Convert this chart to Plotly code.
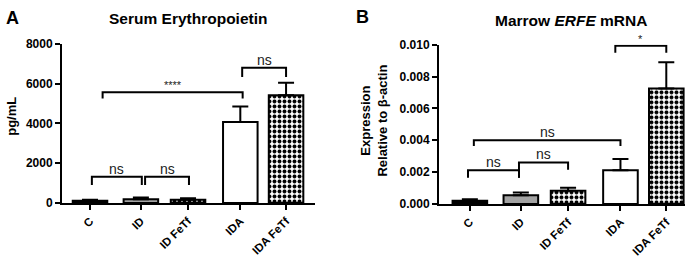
import plotly.graph_objects as go

# ---------------- data ----------------
categories = ["C", "ID", "ID FeTf", "IDA", "IDA FeTf"]
epo_mean = [110, 190, 160, 4070, 5420]
epo_err_top = [165, 275, 235, 4850, 6050]
erfe_mean = [0.00020, 0.00055, 0.00083, 0.00212, 0.00725]
erfe_err_top = [0.00029, 0.00072, 0.00102, 0.00282, 0.00890]

# ---------------- styling / layout ----------------
W, H = 699, 262
POS = [0, 1.09, 2.1, 3.22, 4.2]
BAR_COLORS = ["black", "#a3a3a3", "white", "white", "white"]
PATTERNS = ["", "", ".", "", "."]
FONT = "Liberation Sans, Arial, sans-serif"


def px(x):
    return x / W


def py(y):
    return 1 - y / H


fig = go.Figure()


def add_bars(means, tops, xa, ya):
    for k in range(len(means)):
        marker = dict(color=BAR_COLORS[k], line=dict(color="black", width=2))
        if PATTERNS[k]:
            marker["pattern"] = dict(shape=PATTERNS[k], fgcolor="black", bgcolor="white",
                                     size=5, solidity=0.5, fillmode="replace")
        fig.add_trace(go.Bar(
            x=[POS[k]], y=[means[k]], width=0.74, xaxis=xa, yaxis=ya,
            marker=marker,
            error_y=dict(type="data", symmetric=False,
                         array=[tops[k] - means[k]], arrayminus=[0],
                         color="black", thickness=2, width=8),
            showlegend=False, hoverinfo="skip",
        ))


add_bars(epo_mean, epo_err_top, "x", "y")
add_bars(erfe_mean, erfe_err_top, "x2", "y2")

# brackets: (i, di, j, dj, y_top, y_left_leg, y_right_leg, label, label_size)
brackets_a = [
    (0, 0.04, 1, 0.02, 1320, 900, 900, "ns", 14),
    (1, 0.09, 2, 0.02, 1320, 900, 900, "ns", 14),
    (0, 0.27, 3, 0.05, 5570, 5250, 5250, "****", 11),
    (3, 0.04, 4, 0.0, 6795, 6333, 6333, "ns", 14),
]
brackets_b = [
    (0, -0.04, 1, -0.04, 0.00211, 0.00165, 0.00165, "ns", 14),
    (1, -0.04, 2, 0.0, 0.00261, 0.00165, 0.00215, "ns", 14),
    (0, 0.085, 3, 0.0, 0.00400, 0.00364, 0.00364, "ns", 14),
    (3, -0.11, 4, 0.0, 0.00994, 0.00950, 0.00950, "*", 11),
]

shapes = []
annotations = []
for brs, xr, yr in ((brackets_a, "x", "y"), (brackets_b, "x2", "y2")):
    for i, di, j, dj, yt, yl, yrr, lab, ls in brs:
        x1 = POS[i] + di
        x2 = POS[j] + dj
        shapes.append(dict(type="path", xref=xr, yref=yr,
                           path=f"M {x1},{yl} L {x1},{yt} L {x2},{yt} L {x2},{yrr}",
                           line=dict(color="black", width=2)))
        annotations.append(dict(x=(x1 + x2) / 2, y=yt, xref=xr, yref=yr, text=lab,
                                showarrow=False, yanchor="bottom",
                                yshift=-2 if lab.startswith("n") else -1,
                                font=dict(size=ls, color="#222", family=FONT)))

# titles and panel letters
annotations += [
    dict(x=px(12), y=py(12), text="<b>A</b>", font=dict(size=18)),
    dict(x=px(362), y=py(11), text="<b>B</b>", font=dict(size=18)),
    dict(x=px(188), y=py(12), text="<b>Serum Erythropoietin</b>", font=dict(size=15.5)),
    dict(x=px(571), y=py(14), text="<b>Marrow <i>ERFE</i> mRNA</b>", font=dict(size=15.5)),
    dict(x=px(12), y=py(116), text="<b>pg/mL</b>", textangle=-90, font=dict(size=13)),
    dict(x=px(374), y=py(120), text="<b>Expression<br>Relative to β-actin</b>",
         textangle=-90, font=dict(size=13)),
]
for a in annotations[-6:]:
    a.update(xref="paper", yref="paper", showarrow=False,
             xanchor="center", yanchor="middle")
    a["font"].update(family=FONT, color="black")

tickfont = dict(family=FONT, size=12, color="black", weight="bold")
xtickfont = dict(family=FONT, size=11.5, color="black", weight="bold")
xcommon = dict(tickvals=POS, ticktext=categories, tickangle=-45, tickfont=xtickfont,
               showline=True, linecolor="black", linewidth=2, ticks="outside",
               ticklen=5, tickwidth=2, tickcolor="black", showgrid=False,
               zeroline=False, fixedrange=True)
ycommon = dict(tickfont=tickfont, showline=True, linecolor="black", linewidth=2,
               ticks="outside", ticklen=5, tickwidth=2, tickcolor="black",
               showgrid=False, zeroline=False)

fig.update_layout(
    width=W, height=H, margin=dict(l=0, r=0, t=0, b=0),
    paper_bgcolor="white", plot_bgcolor="white",
    xaxis=dict(domain=[px(62), px(315)], range=[-0.6, 4.82], anchor="y", **xcommon),
    yaxis=dict(domain=[py(207), py(39)], range=[0, 8000], tickvals=[0, 2000, 4000, 6000, 8000],
               anchor="x", **ycommon),
    xaxis2=dict(domain=[px(439), px(685)], range=[-0.66, 4.6], anchor="y2", **xcommon),
    yaxis2=dict(domain=[py(208), py(40)], range=[0, 0.010],
                tickvals=[0, 0.002, 0.004, 0.006, 0.008, 0.010], tickformat=".3f",
                anchor="x2", **ycommon),
    shapes=shapes, annotations=annotations, bargap=0, barmode="overlay",
)

fig.write_html("out.html", config={"displayModeBar": False, "staticPlot": True},
               post_script="document.body.style.margin='0px';")
